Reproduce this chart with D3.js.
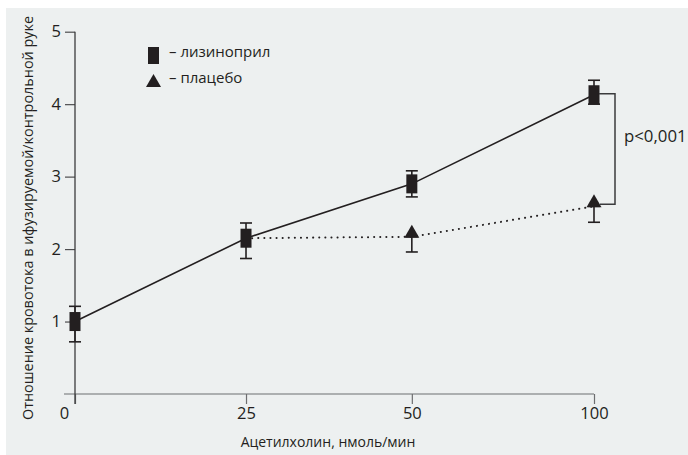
<!DOCTYPE html>
<html>
<head>
<meta charset="utf-8">
<script src="https://cdn.jsdelivr.net/npm/d3@7"></script>
<style>
  body { margin: 0; background: #fff; }
  text { font-family: "Open Sans", "Noto Sans", sans-serif; fill: #231f20; }
</style>
</head>
<body>
<svg id="chart"></svg>
<script>
// Data
const doses = [0, 25, 50, 100]
const lisinopril = [1.0, 2.15, 2.9, 4.13]
const lisinoprilHi = [1.21, 2.36, 3.08, 4.33]
const lisinoprilLo = [0.72, 1.87, 2.72, 4.0]
const placeboDoses = [25, 50, 100]
const placebo = [2.15, 2.17, 2.59]
const placeboLo = [1.87, 1.96, 2.37]
const yTicks = [1, 2, 3, 4, 5]
const xTicks = [0, 25, 50, 100]
const seriesNames = ["– лизиноприл", "– плацебо"]

const width = 688, height = 455
const ink = "#231f20"
const tickFont = 16.5

const svg = d3.select("#chart").attr("width", width).attr("height", height)

// panel background
svg.append("rect")
    .attr("x", 6).attr("y", 8)
    .attr("width", width - 6).attr("height", height - 8)
    .attr("fill", "#edf0f0")

const plotLeft = 75, plotRight = 594, plotTop = 31.7, plotBottom = 394

// the dose axis is not proportional in the original, so use a piecewise scale
const x = d3.scaleLinear()
    .domain(doses)
    .range([0, 0.3295, 0.649, 1].map(f => plotLeft + f * (plotRight - plotLeft)))

const y = d3.scaleLinear().domain([0, 5]).range([plotBottom, plotTop])

// axes
const xAxis = svg.append("g")
    .attr("transform", `translate(0,${plotBottom})`)
    .call(d3.axisBottom(x).tickValues(xTicks).tickSize(10).tickSizeOuter(0).tickPadding(3))
xAxis.select(".domain").remove()
xAxis.selectAll(".tick line").attr("stroke", "#6d6e70").attr("stroke-width", 1.2)
xAxis.selectAll(".tick text")
    .attr("font-size", tickFont)
    .attr("font-family", "Open Sans, sans-serif")
    .attr("fill", ink)
    .attr("dx", d => d === 0 ? -11 : 0)

svg.append("line")
    .attr("x1", plotLeft - 11).attr("x2", plotRight)
    .attr("y1", plotBottom).attr("y2", plotBottom)
    .attr("stroke", "#6d6e70").attr("stroke-width", 1.2)

const yAxis = svg.append("g")
    .attr("transform", `translate(${plotLeft},0)`)
    .call(d3.axisLeft(y).tickValues(yTicks).tickFormat(d3.format("d"))
        .tickSize(10).tickSizeOuter(0).tickPadding(4))
yAxis.select(".domain").remove()
yAxis.selectAll(".tick line").attr("stroke", "#4d4d4f").attr("stroke-width", 1.2)
yAxis.selectAll(".tick text")
    .attr("font-size", tickFont)
    .attr("font-family", "Open Sans, sans-serif")
    .attr("fill", ink)

svg.append("line")
    .attr("x1", plotLeft).attr("x2", plotLeft)
    .attr("y1", y(5)).attr("y2", plotBottom + 10)
    .attr("stroke", "#3b3b3d").attr("stroke-width", 1.3)

// axis titles
svg.append("text")
    .attr("x", 328).attr("y", 447)
    .attr("text-anchor", "middle")
    .attr("font-size", 14)
    .text("Ацетилхолин, нмоль/мин")

svg.append("text")
    .attr("transform", "translate(33,218) rotate(-90)")
    .attr("text-anchor", "middle")
    .attr("font-size", 14.4)
    .text("Отношение кровотока в ифузируемой/контрольной руке")

// lines
const line = d3.line().x(d => x(d[0])).y(d => y(d[1]))

svg.append("path")
    .datum(d3.zip(placeboDoses, placebo))
    .attr("d", line)
    .attr("fill", "none")
    .attr("stroke", ink)
    .attr("stroke-width", 2)
    .attr("stroke-linecap", "round")
    .attr("stroke-dasharray", "0.1,6")

svg.append("path")
    .datum(d3.zip(doses, lisinopril))
    .attr("d", line)
    .attr("fill", "none")
    .attr("stroke", ink)
    .attr("stroke-width", 1.6)

// error bars
function errorBars(xs, lo, hi) {
    const g = svg.append("g").attr("stroke", ink).attr("stroke-width", 1.6)
    xs.forEach((d, i) => {
        g.append("line").attr("x1", x(d)).attr("x2", x(d)).attr("y1", y(lo[i])).attr("y2", y(hi[i]))
        g.append("line").attr("x1", x(d) - 6).attr("x2", x(d) + 6).attr("y1", y(lo[i])).attr("y2", y(lo[i]))
        g.append("line").attr("x1", x(d) - 6).attr("x2", x(d) + 6).attr("y1", y(hi[i])).attr("y2", y(hi[i]))
    })
}
// placebo upper bars are hidden under the marker, so draw them to the mean
errorBars(placeboDoses.slice(1), placeboLo.slice(1), placebo.slice(1))
errorBars(doses, lisinoprilLo, lisinoprilHi)

// markers
const triangle = "M0,-12 L7.5,1 L-7.5,1 Z"

// placebo at 25 sits under the lisinopril marker
svg.selectAll(".tri")
    .data(d3.zip(placeboDoses, placebo).filter(d => d[0] !== 25))
    .join("path")
    .attr("class", "tri")
    .attr("d", triangle)
    .attr("transform", d => `translate(${x(d[0])},${y(d[1])})`)
    .attr("fill", ink)

svg.selectAll(".sq")
    .data(d3.zip(doses, lisinopril))
    .join("rect")
    .attr("class", "sq")
    .attr("x", d => x(d[0]) - 5.5)
    .attr("y", d => y(d[1]) - 9.5)
    .attr("width", 11).attr("height", 19)
    .attr("fill", ink)

// significance bracket
const bx = x(100) + 21
svg.append("path")
    .attr("d", `M${x(100) + 5},${y(lisinopril[3]) - 1} H${bx} V${y(placebo[2]) - 2} H${x(100) + 6}`)
    .attr("fill", "none")
    .attr("stroke", "#3b3b3d")
    .attr("stroke-width", 1.5)

svg.append("text")
    .attr("x", 624).attr("y", 142)
    .attr("font-size", 16.8)
    .text("p<0,001")

// legend
const legend = svg.append("g")
legend.append("rect")
    .attr("x", 148).attr("y", 47).attr("width", 11).attr("height", 17)
    .attr("fill", ink)
legend.append("path")
    .attr("d", triangle)
    .attr("transform", "translate(153.5,86)")
    .attr("fill", ink)
legend.selectAll("text")
    .data(seriesNames)
    .join("text")
    .attr("x", 169)
    .attr("y", (d, i) => 57 + i * 26)
    .attr("font-size", 15)
    .text(d => d)
</script>
</body>
</html>
